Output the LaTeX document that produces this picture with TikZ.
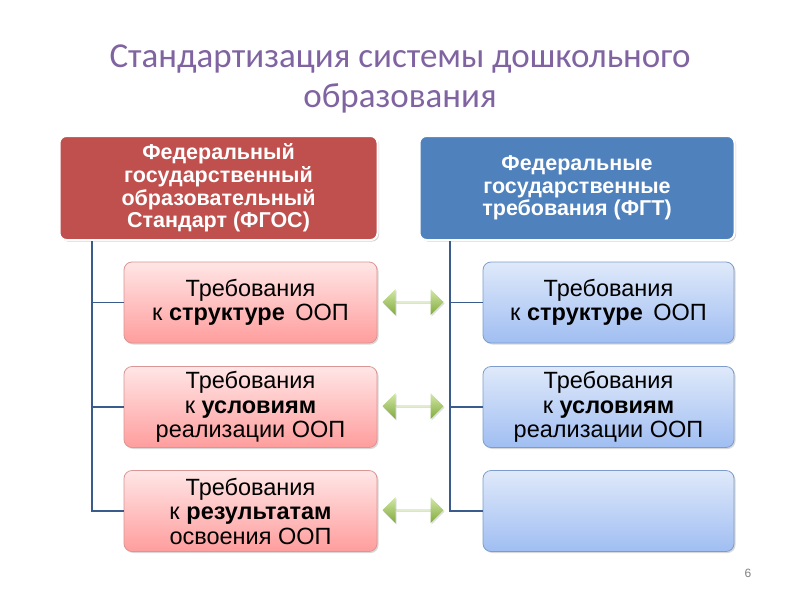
\documentclass[tikz,border=0pt]{standalone}
\usepackage{fontspec}
\setmainfont{Liberation Sans}
\newfontfamily\titlefont{Carlito}
\usetikzlibrary{shapes.arrows,shadows,calc}
\definecolor{titlepurple}{HTML}{8064A2}
\definecolor{hdrred}{HTML}{C0504D}
\definecolor{hdrblue}{HTML}{4F81BD}
\definecolor{pinktop}{HTML}{FFE6E6}
\definecolor{pinkbot}{HTML}{FF9D9D}
\definecolor{pinkline}{HTML}{D99694}
\definecolor{bluetop}{HTML}{DFE9FA}
\definecolor{bluebot}{HTML}{A0BEF2}
\definecolor{blueline}{HTML}{7E9CCB}
\definecolor{treeline}{HTML}{3A5C8C}
\definecolor{greentop}{HTML}{D3E8A8}
\definecolor{greenbot}{HTML}{80AA3C}
\tikzset{
  hdrbox/.style={rectangle, rounded corners=7pt, draw=white, line width=2pt,
    minimum height=104pt, align=center, text=white, inner sep=0pt,
    font=\fontsize{21.5}{22.7}\selectfont\bfseries,
    drop shadow={opacity=0.35, shadow xshift=1.5pt, shadow yshift=-1.5pt}},
  pinkbox/.style={rectangle, rounded corners=8pt, draw=pinkline, line width=0.8pt,
    top color=pinktop, bottom color=pinkbot, minimum width=253pt, minimum height=81pt,
    align=center, inner sep=0pt, font=\fontsize{23.5}{24.5}\selectfont,
    drop shadow={opacity=0.3, shadow xshift=1.5pt, shadow yshift=-1.5pt}},
  bluebox/.style={pinkbox, draw=blueline, top color=bluetop, bottom color=bluebot,
    minimum width=251pt},
  treepath/.style={draw=treeline, line width=1.6pt},
  greenarrow/.style={double arrow, double arrow head extend=7pt, minimum width=26pt,
    minimum height=61pt, inner sep=0pt, top color=greentop, bottom color=greenbot,
    draw=none, drop shadow={opacity=0.25, shadow xshift=1pt, shadow yshift=-1.5pt}}
}
\begin{document}
\begin{tikzpicture}[x=1pt,y=-1pt]
\useasboundingbox (0,0) rectangle (800,600);
\fill[white] (0,0) rectangle (800,600);

\node[font=\titlefont\fontsize{35}{40}\selectfont, text=titlepurple, align=center] (title) at (400,79)
  {Стандартизация системы дошкольного\\образования};

\node[hdrbox, fill=hdrred, minimum width=318pt] (hdrL) at (218.5,188)
  {Федеральный\\государственный\\образовательный\\Стандарт (ФГОС)};
\node[hdrbox, fill=hdrblue, minimum width=315pt] (hdrR) at (577,188)
  {Федеральные\\государственные\\требования (ФГТ)};

\node[pinkbox] (L1) at (250.5,302.5) {Требования\\к \textbf{структуре}\, ООП};
\node[pinkbox] (L2) at (250.5,407) {Требования\\к \textbf{условиям}\\реализации ООП};
\node[pinkbox] (L3) at (250.5,511) {Требования\\к \textbf{результатам}\\освоения ООП};

\node[bluebox] (R1) at (608.5,302.5) {Требования\\к \textbf{структуре}\, ООП};
\node[bluebox] (R2) at (608.5,407) {Требования\\к \textbf{условиям}\\реализации ООП};
\node[bluebox] (R3) at (608.5,511) {};

\coordinate (tl) at (92,241);
\coordinate (tr) at (450,241);
\draw[treepath] (tl) |- (L3.west);
\draw[treepath] (tl |- L1.west) -- (L1.west);
\draw[treepath] (tl |- L2.west) -- (L2.west);
\draw[treepath] (tr) |- (R3.west);
\draw[treepath] (tr |- R1.west) -- (R1.west);
\draw[treepath] (tr |- R2.west) -- (R2.west);

\node[greenarrow] (a1) at (413,302) {};
\node[greenarrow] (a2) at (413,406) {};
\node[greenarrow] (a3) at (413,510) {};

\node[text=gray, font=\fontsize{12}{14}\selectfont] (pg) at (748,573) {6};
\end{tikzpicture}
\end{document}
